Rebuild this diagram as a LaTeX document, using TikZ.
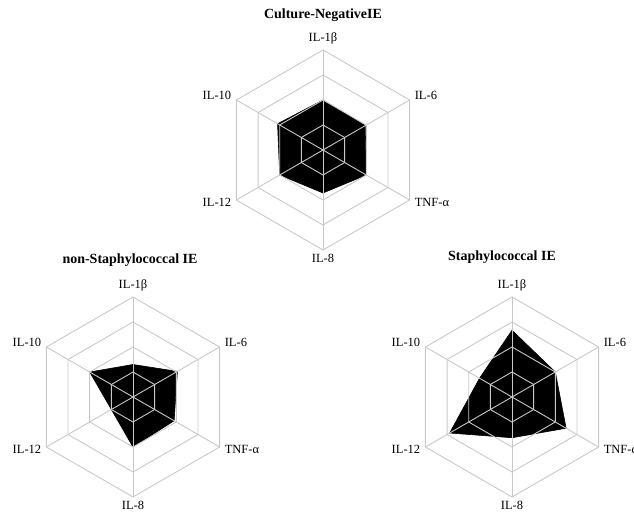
\documentclass[tikz,border=0pt]{standalone}
\usepackage{fontspec}
\setmainfont{Liberation Serif}
\definecolor{gridgray}{RGB}{200,200,200}
\tikzset{
  gridline/.style={draw=gridgray, line width=0.9pt, line join=miter},
  axlabel/.style={font=\fontsize{12.5}{14}\selectfont, inner sep=0pt},
  charttitle/.style={font=\bfseries\fontsize{14}{16}\selectfont, inner sep=0pt},
  datafill/.style={fill=black, draw=black, line width=0.6pt, line join=round}
}
% #1 name, #2..#7 values (ring units, 4 rings = 100)
\newcommand\radarchart[7]{%
  \fill[datafill] (90:{25*#2}) -- (30:{25*#3}) -- (-30:{25*#4}) -- (-90:{25*#5})
        -- (-150:{25*#6}) -- (150:{25*#7}) -- cycle;
  \foreach \r in {25,50,75,100}{
    \draw[gridline] (90:\r) -- (30:\r) -- (-30:\r) -- (-90:\r) -- (-150:\r) -- (150:\r) -- cycle;
  }
  \foreach \a in {90,30,-30,-90,-150,150}{
    \draw[gridline] (0,0) -- (\a:100);
  }
  \node[axlabel, anchor=base] (#1-ilb) at (0,108.5) {IL-1β};
  \node[axlabel, anchor=base west] (#1-ilsix) at (91.6,50.5) {IL-6};
  \node[axlabel, anchor=base west] (#1-tnf) at (91.6,-56.5) {TNF-α};
  \node[axlabel, anchor=base] (#1-ileight) at (0,-112.5) {IL-8};
  \node[axlabel, anchor=base east] (#1-iltwelve) at (-91.6,-56.5) {IL-12};
  \node[axlabel, anchor=base east] (#1-ilten) at (-91.6,50.5) {IL-10};
}
\begin{document}
\begin{tikzpicture}[x=1pt,y=1pt]
  \useasboundingbox (0,0) rectangle (634,512);
  % chart 1: centre (323,150) px
  \begin{scope}[shift={(323,362)}]
    \radarchart{cn}{2.0}{1.95}{2.0}{1.72}{2.0}{2.1}
  \end{scope}
  \node[charttitle] (t1) at (323,497) {Culture-NegativeIE};
  % chart 2: centre (133,397) px
  \begin{scope}[shift={(133,115)}]
    \radarchart{ns}{1.3}{2.05}{1.9}{2.0}{1.0}{2.0}
  \end{scope}
  \node[charttitle] (t2) at (130,252) {non-Staphylococcal IE};
  % chart 3: centre (512,397) px
  \begin{scope}[shift={(512,115)}]
    \radarchart{st}{2.67}{2.0}{2.5}{1.63}{2.88}{1.5}
  \end{scope}
  \node[charttitle] (t3) at (502,255) {Staphylococcal IE};
\end{tikzpicture}
\end{document}
